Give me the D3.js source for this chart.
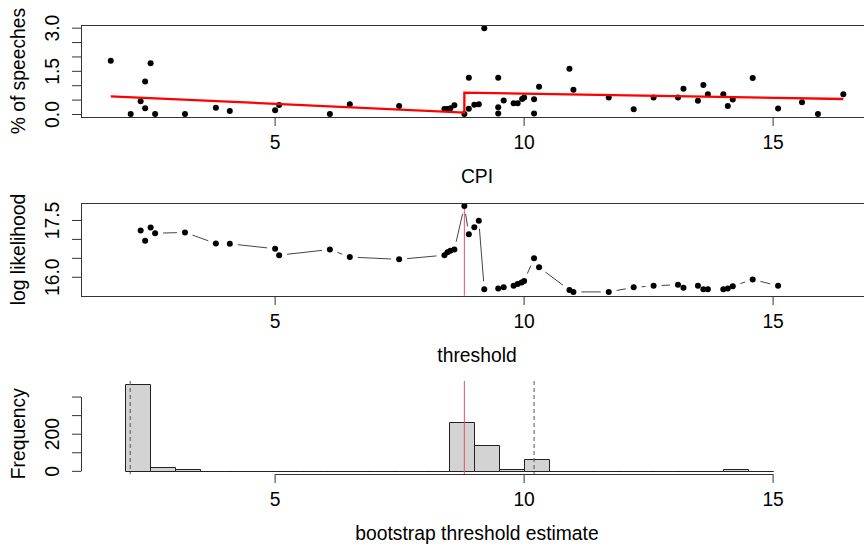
<!DOCTYPE html>
<html>
<head>
<meta charset="utf-8">
<script src="https://cdn.jsdelivr.net/npm/d3@7"></script>
<style>
body { margin: 0; background: #fff; }
svg { display: block; font-family: "Liberation Sans", Arial, sans-serif; }
</style>
</head>
<body>
<div id="chart"></div>
<script>

// top panel: % of speeches vs CPI
let cpi = [1.71, 2.11, 2.31, 2.40, 2.40, 2.51, 2.60, 3.20, 3.82, 4.10,
    5.01, 5.09, 6.11, 6.51, 7.50, 8.41, 8.47, 8.53, 8.61, 8.81,
    8.90, 8.90, 9.01, 9.10, 9.21, 9.49, 9.49, 9.49, 9.60, 9.80,
    9.88, 9.97, 10.01, 10.21, 10.21, 10.31, 10.92, 11.00, 11.71, 12.21,
    12.61, 13.10, 13.21, 13.50, 13.61, 13.70, 14.01, 14.10, 14.20, 14.60,
    15.11, 15.59, 15.91, 16.42]
let pct = [1.85, 0.00, 0.44, 1.13, 0.20, 1.76, 0.00, 0.00, 0.22, 0.10,
    0.13, 0.31, 0.00, 0.34, 0.28, 0.17, 0.17, 0.20, 0.30, 0.00,
    1.26, 0.18, 0.32, 0.34, 2.98, 1.26, 0.23, 0.02, 0.47, 0.37,
    0.37, 0.52, 0.57, 0.51, 0.02, 0.95, 1.57, 0.84, 0.57, 0.16,
    0.57, 0.57, 0.88, 0.46, 1.01, 0.69, 0.69, 0.28, 0.50, 1.25,
    0.19, 0.41, 0.00, 0.69]
// fitted threshold model (vertices of the red line)
let fitX = [1.71, 8.81, 8.81, 16.42]
let fitY = [0.615, 0.05, 0.74, 0.52]

// middle panel: log likelihood per candidate threshold
let thr = [2.31, 2.40, 2.51, 2.60, 3.20, 3.82, 4.10, 5.01, 5.09, 6.11,
    6.51, 7.50, 8.41, 8.47, 8.53, 8.61, 8.81, 8.90, 9.01, 9.10,
    9.21, 9.49, 9.60, 9.80, 9.88, 9.96, 10.01, 10.21, 10.31, 10.92,
    11.00, 11.71, 12.21, 12.61, 13.10, 13.21, 13.50, 13.61, 13.70, 14.01,
    14.10, 14.20, 14.60, 15.11]
let loglik = [17.22, 16.95, 17.30, 17.15, 17.17, 16.88, 16.87, 16.74, 16.57, 16.72,
    16.52, 16.46, 16.57, 16.65, 16.69, 16.72, 17.87, 17.12, 17.31, 17.48,
    15.67, 15.69, 15.72, 15.76, 15.81, 15.85, 15.89, 16.49, 16.25, 15.65,
    15.60, 15.60, 15.72, 15.76, 15.79, 15.71, 15.76, 15.67, 15.67, 15.67,
    15.69, 15.75, 15.93, 15.76]

// bottom panel: bootstrap histogram
let binLo = [2.0, 2.5, 3.0, 3.5, 4.0, 4.5, 5.0, 5.5, 6.0, 6.5, 7.0, 7.5, 8.0,
    8.5, 9.0, 9.5, 10.0, 10.5, 11.0, 11.5, 12.0, 12.5, 13.0, 13.5, 14.0, 14.5]
let binCount = [465, 22, 11, 0, 0, 0, 0, 0, 0, 0, 0, 0, 0,
    265, 140, 9, 62, 0, 0, 0, 0, 0, 0, 0, 8, 0]
let binWidth = 0.5

let thrHat = 8.81
let ciBounds = [2.10, 10.21]

let xTicks = [5, 10, 15]
let yTicks1 = [0, 0.5, 1, 1.5, 2, 2.5, 3], yLabels1 = ["0.0", "1.5", "3.0"]
let yTicks2 = [16, 16.5, 17, 17.5], yLabels2 = ["16.0", "17.5"]
let yTicks3 = [0, 100, 200, 300, 400], yLabels3 = ["0", "200"]

const width = 864, height = 546
const fs = 19.3
const axisCol = "#333"
const left = 81, right = 873
const dotR = 3.0

let svg = d3.select("#chart").append("svg")
    .attr("width", width)
    .attr("height", height)

svg.append("rect").attr("width", width).attr("height", height).attr("fill", "#fff")

let x = d3.scaleLinear().domain([1.112, 17.016]).range([left, right])

let y1 = d3.scaleLinear().domain([-0.119, 3.10]).range([117.4, 24.8])
let y2 = d3.scaleLinear().domain([15.50, 17.94]).range([295.7, 203.3])
let y3 = d3.scaleLinear().domain([-18.6, 483.6]).range([474.3, 381.0])

function fmtFrom(labels, fmt) {
    return d => labels.indexOf(fmt(d)) >= 0 ? fmt(d) : ""
}

function drawXAxis(yPos, scale) {
    let g = svg.append("g")
        .attr("transform", "translate(0," + Math.round(yPos) + ")")
        .call(d3.axisBottom(scale).tickValues(xTicks).tickSize(9).tickSizeOuter(0).tickFormat(d3.format("d")))
    g.select(".domain").attr("stroke", axisCol)
    g.selectAll(".tick line").attr("stroke", axisCol)
    g.selectAll(".tick text")
        .attr("y", 32).attr("dy", 0)
        .attr("fill", "#000")
        .style("font-size", fs + "px")
        .style("font-family", "Liberation Sans, Arial, sans-serif")
    return g
}

function drawYAxis(scale, ticks, labels, fmt) {
    let g = svg.append("g")
        .attr("transform", "translate(" + left + ",0)")
        .call(d3.axisLeft(scale).tickValues(ticks).tickSize(9).tickSizeOuter(0).tickFormat(fmtFrom(labels, fmt)))
    g.select(".domain").attr("stroke", axisCol)
    g.selectAll(".tick line").attr("stroke", axisCol)
    g.selectAll(".tick text")
        .attr("x", 0).attr("y", 0).attr("dy", 0)
        .attr("text-anchor", "middle")
        .attr("transform", "translate(-22,0) rotate(-90)")
        .attr("fill", "#000")
        .style("font-size", fs + "px")
        .style("font-family", "Liberation Sans, Arial, sans-serif")
    return g
}

function xTitle(txt, yPos) {
    svg.append("text")
        .attr("x", (left + right) / 2)
        .attr("y", yPos)
        .attr("text-anchor", "middle")
        .style("font-size", fs + "px")
        .text(txt)
}

function yTitle(txt, yMid) {
    svg.append("text")
        .attr("transform", "translate(25," + yMid + ") rotate(-90)")
        .attr("text-anchor", "middle")
        .style("font-size", fs + "px")
        .text(txt)
}

function box(yScale) {
    let r = yScale.range()
    svg.append("rect")
        .attr("x", left + 0.5)
        .attr("y", Math.round(r[1]) + 0.5)
        .attr("width", right - left)
        .attr("height", Math.round(r[0]) - Math.round(r[1]))
        .attr("fill", "none")
        .attr("stroke", axisCol)
}

// ---- top panel
svg.append("g").selectAll("circle")
    .data(cpi.map((c, i) => [c, pct[i]]))
    .join("circle")
    .attr("cx", d => x(d[0]))
    .attr("cy", d => y1(d[1]))
    .attr("r", dotR)
    .attr("fill", "#000")

svg.append("path")
    .datum(fitX.map((c, i) => [c, fitY[i]]))
    .attr("fill", "none")
    .attr("stroke", "#ff0000")
    .attr("stroke-width", 2.3)
    .attr("d", d3.line().x(d => x(d[0])).y(d => y1(d[1])))

box(y1)
drawXAxis(y1.range()[0], x)
drawYAxis(y1, yTicks1, yLabels1, d3.format(".1f"))
xTitle("CPI", 183.3)
yTitle("% of speeches", (y1.range()[0] + y1.range()[1]) / 2)

// ---- middle panel
svg.append("line")
    .attr("x1", x(thrHat)).attr("x2", x(thrHat))
    .attr("y1", y2.range()[1]).attr("y2", y2.range()[0])
    .attr("stroke", "#DF536B")
    .attr("stroke-width", 1)

// type = "b": segments with gaps around the points
let pts2 = thr.map((t, i) => [x(t), y2(loglik[i])])
let gap = 8
let segs = []
for (let i = 0; i < pts2.length - 1; i++) {
    let a = pts2[i], b = pts2[i + 1]
    let dx = b[0] - a[0], dy = b[1] - a[1]
    let len = Math.sqrt(dx * dx + dy * dy)
    if (len > 2 * gap) {
        let ux = dx / len, uy = dy / len
        segs.push([a[0] + ux * gap, a[1] + uy * gap, b[0] - ux * gap, b[1] - uy * gap])
    }
}
svg.append("g").selectAll("line")
    .data(segs)
    .join("line")
    .attr("x1", d => d[0]).attr("y1", d => d[1])
    .attr("x2", d => d[2]).attr("y2", d => d[3])
    .attr("stroke", "#444")
    .attr("stroke-width", 1)

svg.append("g").selectAll("circle")
    .data(pts2)
    .join("circle")
    .attr("cx", d => d[0])
    .attr("cy", d => d[1])
    .attr("r", dotR)
    .attr("fill", "#000")

box(y2)
drawXAxis(y2.range()[0], x)
drawYAxis(y2, yTicks2, yLabels2, d3.format(".1f"))
xTitle("threshold", 361.7)
yTitle("log likelihood", (y2.range()[0] + y2.range()[1]) / 2)

// ---- bottom panel (histogram)
svg.append("g").selectAll("path")
    .data(binLo.map((b, i) => [b, binCount[i]]))
    .join("path")
    .attr("d", d => {
        let x0 = Math.round(x(d[0])) + 0.5, x1 = Math.round(x(d[0] + binWidth)) + 0.5
        let yb = Math.round(y3(0)) + 0.5, yt = Math.round(y3(d[1])) + 0.5
        return "M" + x0 + "," + yb + "V" + yt + "H" + x1 + "V" + yb + "Z"
    })
    .attr("fill", "#d3d3d3")
    .attr("stroke", "#222")
    .attr("stroke-width", 1)

svg.append("g").selectAll("line")
    .data(ciBounds)
    .join("line")
    .attr("x1", d => x(d)).attr("x2", d => x(d))
    .attr("y1", y3.range()[1]).attr("y2", y3.range()[0])
    .attr("stroke", "#555")
    .attr("stroke-dasharray", "4,3")

svg.append("line")
    .attr("x1", x(thrHat)).attr("x2", x(thrHat))
    .attr("y1", y3.range()[1]).attr("y2", y3.range()[0])
    .attr("stroke", "#DF536B")
    .attr("stroke-width", 1)

let xAxis3 = d3.scaleLinear().domain([5, 15]).range([x(5), x(15)])
drawXAxis(y3.range()[0], xAxis3)
let yAxis3 = d3.scaleLinear().domain([0, 400]).range([y3(0), y3(400)])
drawYAxis(yAxis3, yTicks3, yLabels3, d3.format("d"))
xTitle("bootstrap threshold estimate", 540.3)
yTitle("Frequency", (y3(0) + y3(400)) / 2 + 0)

</script>
</body>
</html>
